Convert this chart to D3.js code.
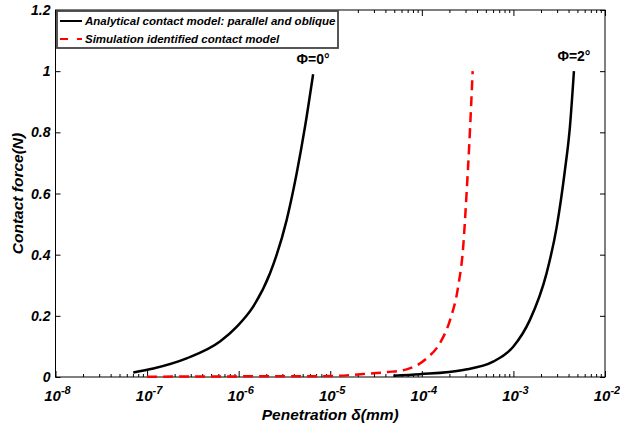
<!DOCTYPE html>
<html>
<head>
<meta charset="utf-8">
<script src="https://cdn.jsdelivr.net/npm/d3@7"></script>
<style>
  body { margin: 0; background: #fff; }
  text { font-family: "Liberation Sans", Arial, sans-serif; }
  .tick-label { font-size: 14px; font-weight: bold; font-style: italic; }
  .xtick-label { font-size: 15px; font-weight: bold; font-style: italic; }
  .axis-title { font-size: 15.5px; font-weight: bold; font-style: italic; }
  .legend-text { font-size: 11.5px; font-weight: bold; font-style: italic; }
  .note { font-size: 14px; font-weight: bold; }
</style>
</head>
<body>
<svg id="chart" width="620" height="428"></svg>
<script>
// values
const phi0Delta = [7.06e-8, 1.17e-7, 2.70e-7, 6.25e-7, 9.5e-7, 1.44e-6, 2.2e-6, 3.34e-6, 4.3e-6, 5.3e-6, 6.5e-6];
const phi0Force = [0.015, 0.028, 0.061, 0.116, 0.164, 0.23, 0.339, 0.513, 0.666, 0.818, 0.99];

const phi2Delta = [4.88e-5, 9.5e-5, 2.83e-4, 6.0e-4, 9.95e-4, 1.51e-3, 2.3e-3, 2.97e-3, 3.65e-3, 4.14e-3, 4.58e-3];
const phi2Force = [0.004, 0.009, 0.0229, 0.05, 0.099, 0.186, 0.339, 0.491, 0.676, 0.818, 1.0];

const simDelta = [1e-7, 1e-6, 9.9e-6, 2.29e-5, 4.2e-5, 6.82e-5, 1.13e-4, 1.57e-4, 2.03e-4, 2.49e-4, 2.83e-4, 3.08e-4, 3.30e-4, 3.59e-4];
const simForce = [0.001, 0.002, 0.003, 0.0098, 0.016, 0.025, 0.061, 0.11, 0.186, 0.295, 0.426, 0.601, 0.764, 1.0];

const xTickExp = [-8, -7, -6, -5, -4, -3, -2];
const yTicks = [0, 0.2, 0.4, 0.6, 0.8, 1, 1.2];

const legendLabels = ["Analytical contact model: parallel and oblique", "Simulation identified contact model"];
const notes = ["\u03A6=0\u00B0", "\u03A6=2\u00B0"];

const svg = d3.select('#chart');

const plotLeft = 55.5, plotRight = 605, plotTop = 10, plotBottom = 377;

const x = d3.scaleLog().domain([1e-8, 1e-2]).range([plotLeft, plotRight]);
const y = d3.scaleLinear().domain([0, 1.2]).range([plotBottom, plotTop]);

const majors = xTickExp.map(e => Math.pow(10, e));
const minors = x.ticks().filter(v => !majors.some(m => Math.abs(m - v) / m < 1e-6));

// ticks, all pointing inwards
function drawTicks(g, axis) {
    g.call(axis);
    g.select('.domain').remove();
    g.selectAll('line').attr('stroke', '#000');
}
svg.append('g').attr('transform', `translate(0,${plotBottom})`)
    .call(g => drawTicks(g, d3.axisBottom(x).tickValues(majors).tickSize(-6).tickFormat('')));
svg.append('g').attr('transform', `translate(0,${plotBottom})`)
    .call(g => drawTicks(g, d3.axisBottom(x).tickValues(minors).tickSize(-3).tickFormat('')));
svg.append('g').attr('transform', `translate(0,${plotTop})`)
    .call(g => drawTicks(g, d3.axisTop(x).tickValues(majors).tickSize(-6).tickFormat('')));
svg.append('g').attr('transform', `translate(0,${plotTop})`)
    .call(g => drawTicks(g, d3.axisTop(x).tickValues(minors).tickSize(-3).tickFormat('')));
svg.append('g').attr('transform', `translate(${plotLeft},0)`)
    .call(g => drawTicks(g, d3.axisLeft(y).tickValues(yTicks).tickSize(-5).tickFormat('')));
svg.append('g').attr('transform', `translate(${plotRight},0)`)
    .call(g => drawTicks(g, d3.axisRight(y).tickValues(yTicks).tickSize(-5).tickFormat('')));

// frame
svg.append('rect')
    .attr('x', plotLeft).attr('y', plotTop)
    .attr('width', plotRight - plotLeft).attr('height', plotBottom - plotTop)
    .attr('fill', 'none').attr('stroke', '#000').attr('stroke-width', 1);

// tick labels
svg.selectAll('.ylab').data(yTicks).enter().append('text')
    .attr('class', 'tick-label')
    .attr('x', plotLeft - 5)
    .attr('y', d => y(d) + 5)
    .attr('text-anchor', 'end')
    .text(d => d);

const xl = svg.selectAll('.xlab').data(xTickExp).enter().append('text')
    .attr('class', 'xtick-label')
    .attr('x', d => x(Math.pow(10, d)) + 2)
    .attr('y', 401)
    .attr('text-anchor', 'middle');
xl.append('tspan').text('10');
xl.append('tspan').attr('dy', -7).attr('font-size', 11).text(d => d);

// axis titles
svg.append('text')
    .attr('class', 'axis-title')
    .attr('x', (plotLeft + plotRight) / 2)
    .attr('y', 420)
    .attr('text-anchor', 'middle')
    .text('Penetration \u03B4(mm)');

svg.append('text')
    .attr('class', 'axis-title')
    .attr('transform', `translate(23,${(plotTop + plotBottom) / 2}) rotate(-90)`)
    .attr('text-anchor', 'middle')
    .text('Contact force(N)');

// curves
const line = d3.line()
    .x(d => x(d[0]))
    .y(d => y(d[1]))
    .curve(d3.curveMonotoneX);

const phi0 = phi0Delta.map((d, i) => [d, phi0Force[i]]);
const phi2 = phi2Delta.map((d, i) => [d, phi2Force[i]]);
const sim = simDelta.map((d, i) => [d, simForce[i]]);

svg.append('path').datum(phi0)
    .attr('d', line).attr('fill', 'none')
    .attr('stroke', '#000').attr('stroke-width', 2.5);
svg.append('path').datum(phi2)
    .attr('d', line).attr('fill', 'none')
    .attr('stroke', '#000').attr('stroke-width', 2.5);
svg.append('path').datum(sim)
    .attr('d', line).attr('fill', 'none')
    .attr('stroke', '#ff0000').attr('stroke-width', 2.5)
    .attr('stroke-dasharray', '10,6');

// curve notes above the top of each analytical curve
const tops = [phi0[phi0.length - 1], phi2[phi2.length - 1]];
svg.selectAll('.note').data(tops).enter().append('text')
    .attr('class', 'note')
    .attr('x', d => x(d[0]))
    .attr('y', d => y(d[1]) - 10)
    .attr('text-anchor', 'middle')
    .text((d, i) => notes[i]);

// legend
const legend = svg.append('g');
legend.append('rect')
    .attr('x', 57).attr('y', 11)
    .attr('width', 281).attr('height', 37)
    .attr('fill', '#fff').attr('stroke', '#444').attr('stroke-width', 1.8);

const rows = legend.selectAll('.row').data(legendLabels).enter().append('g')
    .attr('transform', (d, i) => `translate(0,${21 + i * 18})`);
rows.append('line')
    .attr('x1', 60).attr('x2', 82)
    .attr('stroke', (d, i) => i === 0 ? '#000' : '#ff0000')
    .attr('stroke-width', 2)
    .attr('stroke-dasharray', (d, i) => i === 0 ? null : '8,9');
rows.append('text')
    .attr('class', 'legend-text')
    .attr('x', 85).attr('y', 4)
    .text(d => d);
</script>
</body>
</html>
